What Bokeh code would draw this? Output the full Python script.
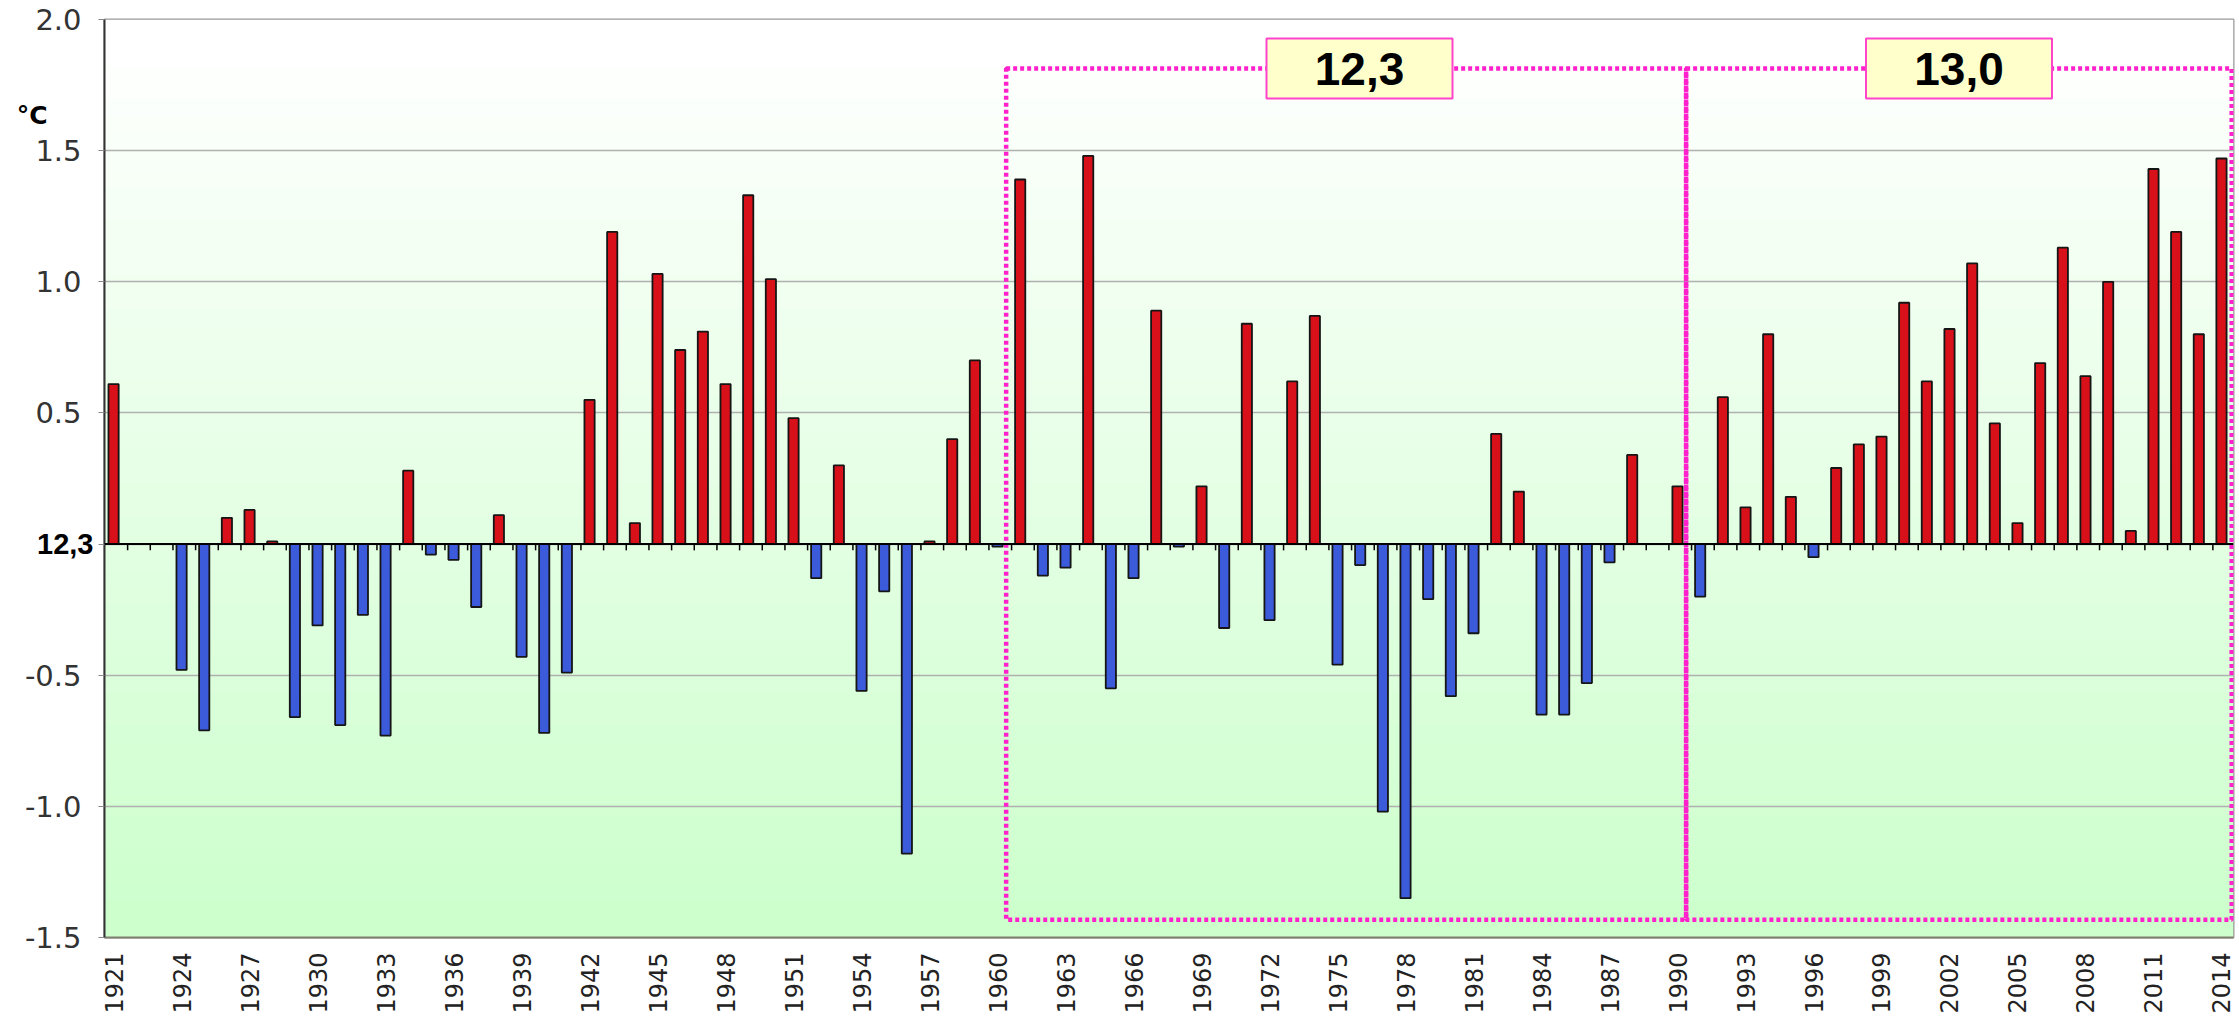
import math
import numpy as np
from bokeh.plotting import figure
from bokeh.models import FixedTicker, Span, Range1d, LinearAxis
from bokeh.embed import file_html
from bokeh.resources import INLINE
from bokeh.core.properties import value

# ---------------- data ----------------
years = list(range(1921, 2015))
anomaly = [
    0.61, 0.00, 0.00, -0.48, -0.71, 0.10, 0.13, 0.01, -0.66, -0.31,   # 1921-1930
    -0.69, -0.27, -0.73, 0.28, -0.04, -0.06, -0.24, 0.11, -0.43, -0.72,  # 1931-1940
    -0.49, 0.55, 1.19, 0.08, 1.03, 0.74, 0.81, 0.61, 1.33, 1.01,      # 1941-1950
    0.48, -0.13, 0.30, -0.56, -0.18, -1.18, 0.01, 0.40, 0.70, -0.01,  # 1951-1960
    1.39, -0.12, -0.09, 1.48, -0.55, -0.13, 0.89, -0.01, 0.22, -0.32, # 1961-1970
    0.84, -0.29, 0.62, 0.87, -0.46, -0.08, -1.02, -1.35, -0.21, -0.58, # 1971-1980
    -0.34, 0.42, 0.20, -0.65, -0.65, -0.53, -0.07, 0.34, 0.00, 0.22,  # 1981-1990
    -0.20, 0.56, 0.14, 0.80, 0.18, -0.05, 0.29, 0.38, 0.41, 0.92,     # 1991-2000
    0.62, 0.82, 1.07, 0.46, 0.08, 0.69, 1.13, 0.64, 1.00, 0.05,       # 2001-2010
    1.43, 1.19, 0.80, 1.47,                                           # 2011-2014
]
x_tick_years = list(range(1921, 2015, 3))
y_ticks = [-1.5, -1.0, -0.5, 0.0, 0.5, 1.0, 1.5, 2.0]
y_tick_labels = ["-1.5", "-1.0", "-0.5", "", "0.5", "1.0", "1.5", "2.0"]
baseline_value = 0.0
baseline_label = "12,3"
unit_label = "°C"
unit_label_y = 1.634
period_start = [1961, 1991]
period_end = [1990, 2014]
period_mean_labels = ["12,3", "13,0"]
box_top = 1.813
box_bottom = -1.432

# ---------------- figure ----------------
x0 = years[0] - 0.40
x1 = years[-1] + 0.53
p = figure(width=2236, height=1016,
           x_range=Range1d(x0, x1), y_range=Range1d(-1.5, 2.0),
           output_backend="svg", toolbar_location=None,
           min_border_left=104, min_border_right=3,
           min_border_top=19, min_border_bottom=76)
p.background_fill_color = "white"
p.border_fill_color = "white"
p.outline_line_color = "#999999"
p.outline_line_width = 2

# gradient background (white -> light green)
N = 256
ys = np.linspace(-1.5, 2.0, N)
t = np.clip((1.9 - ys) / 3.4, 0, 1)
img = np.empty((N, 1), dtype=np.uint32)
view = img.view(dtype=np.uint8).reshape((N, 1, 4))
view[:, 0, 0] = (255 - 51 * t).astype(np.uint8)
view[:, 0, 1] = 255
view[:, 0, 2] = (255 - 51 * t).astype(np.uint8)
view[:, 0, 3] = 255
p.image_rgba(image=[img], x=x0, y=-1.5, dw=x1 - x0, dh=3.5, level="image")

# grid
p.xgrid.grid_line_color = None
p.ygrid.ticker = FixedTicker(ticks=y_ticks)
p.ygrid.grid_line_color = "#b0b0b0"
p.ygrid.grid_line_width = 1.5

# bars
colors = ["#d8101a" if v > 0 else "#3b5bdb" for v in anomaly]
p.vbar(x=years, top=anomaly, bottom=0, width=0.45,
       fill_color=colors, line_color="#151515", line_width=1.8)

# zero line and small ticks
p.add_layout(Span(location=0, dimension="width", line_color="black", line_width=2))
bounds = [y + 0.62 for y in years[:-1]]
p.segment(x0=bounds, y0=[0] * len(bounds), x1=bounds, y1=[-0.024] * len(bounds),
          line_color="black", line_width=1.5)

# period boxes (dotted)
lefts = [s - 0.62 for s in period_start]
rights = lefts[1:] + [x1 - 0.08]
p.quad(left=lefts, right=rights, bottom=[box_bottom] * 2, top=[box_top] * 2,
       fill_color=None, line_color="#ff22cc", line_width=4.5, line_dash="4 3")

label_offsets = [0.47, -0.08]
label_x = [(s + e) / 2 + o for s, e, o in zip(period_start, period_end, label_offsets)]
p.rect(x=label_x, y=[box_top] * 2, width=186, height=60,
       width_units="screen", height_units="screen",
       fill_color="#ffffcc", line_color="#ff44cc", line_width=2)
p.text(x=label_x, y=[box_top] * 2, text=period_mean_labels,
       text_font=value("Liberation Sans"), text_font_style="bold",
       text_font_size="46px", text_align="center", text_baseline="middle",
       text_color="black")

# main y axis (nearest the frame)
yax = p.yaxis[0]
yax.ticker = FixedTicker(ticks=y_ticks)
yax.major_label_overrides = {k: v for k, v in zip(y_ticks, y_tick_labels)}
yax.axis_line_color = "#333333"
yax.axis_line_width = 2
yax.major_tick_line_color = "#888888"
yax.major_tick_out = 6
yax.major_tick_in = 0
yax.minor_tick_line_color = None
yax.major_label_text_font = "DejaVu Sans"
yax.major_label_text_font_size = "29px"
yax.major_label_text_color = "#333333"
yax.major_label_standoff = 17

# extra left axis carrying the bold baseline label "12,3"
# (negative standoff pulls its label back next to the main axis)
ax_base = LinearAxis(ticker=FixedTicker(ticks=[baseline_value]),
                     major_label_overrides={baseline_value: baseline_label},
                     axis_line_color=None, major_tick_line_color=None,
                     minor_tick_line_color=None, major_tick_out=0, major_tick_in=0,
                     major_label_standoff=-72,
                     major_label_text_font="Liberation Sans",
                     major_label_text_font_style="bold",
                     major_label_text_font_size="29px",
                     major_label_text_color="black")
p.add_layout(ax_base, "left")

# extra left axis carrying the unit label
ax_unit = LinearAxis(ticker=FixedTicker(ticks=[unit_label_y]),
                     major_label_overrides={unit_label_y: unit_label},
                     axis_line_color=None, major_tick_line_color=None,
                     minor_tick_line_color=None, major_tick_out=0, major_tick_in=0,
                     major_label_standoff=-26,
                     major_label_text_font="DejaVu Sans",
                     major_label_text_font_style="bold",
                     major_label_text_font_size="25px",
                     major_label_text_color="black")
p.add_layout(ax_unit, "left")

# x axis
p.xaxis.ticker = FixedTicker(ticks=x_tick_years)
p.xaxis.major_label_orientation = math.pi / 2
p.xaxis.major_tick_line_color = None
p.xaxis.major_tick_out = 0
p.xaxis.major_tick_in = 0
p.xaxis.minor_tick_line_color = None
p.xaxis.axis_line_color = "#808070"
p.xaxis.axis_line_width = 2
p.xaxis.major_label_standoff = 15
p.xaxis.major_label_text_font = "DejaVu Sans"
p.xaxis.major_label_text_font_size = "24px"
p.xaxis.major_label_text_color = "#222222"

open("out.html", "w").write(file_html(p, INLINE))
